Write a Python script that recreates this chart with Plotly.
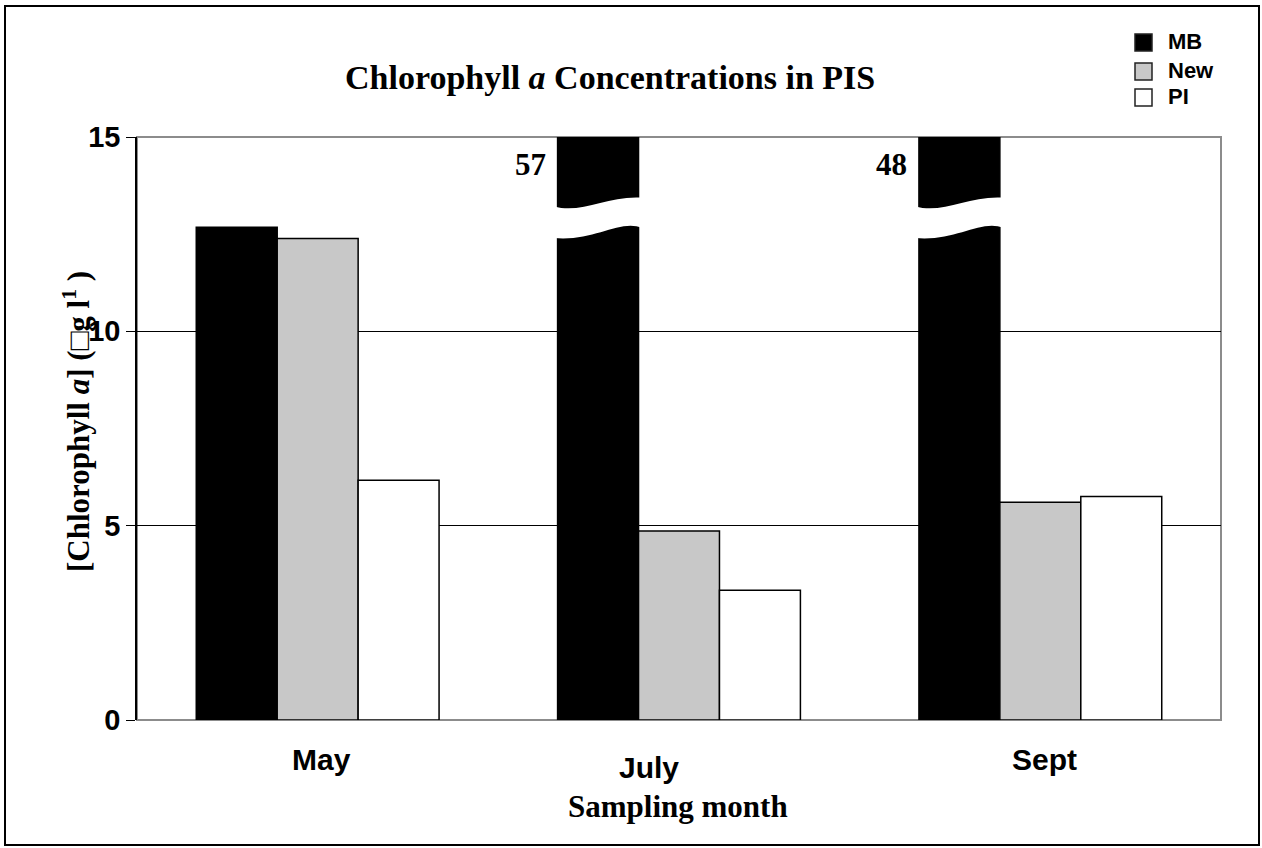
import plotly.graph_objects as go

# data
MONTHS = ["May", "July", "Sept"]
SERIES = ["MB", "New", "PI"]
MB = [12.68, 57, 48]
NEW = [12.39, 4.86, 5.6]
PI = [6.17, 3.34, 5.75]
BROKEN_LABELS = ["", "57", "48"]      # values of the off-scale MB bars
COLORS = ["#000000", "#c8c8c8", "#ffffff"]

# page geometry (px)
W, H = 1262, 848
L, R, T, B = 137, 41, 137, 128
PW, PH = W - L - R, H - T - B
BARGAP = 0.328
YMAX = 15


def px(x):   # pixel x -> paper x
    return (x - L) / PW


def py(y):   # pixel y -> paper y
    return (H - B - y) / PH


fig = go.Figure()
for name, vals, col in zip(SERIES, [MB, NEW, PI], COLORS):
    fig.add_bar(x=list(range(len(MONTHS))), y=vals, name=name,
                marker=dict(color=col, line=dict(color="#000000", width=1.5)))

# white "axis break" bands across the off-scale MB bars
bw = (1 - BARGAP) / 3
for i, lab in enumerate(BROKEN_LABELS):
    if not lab:
        continue
    xl, xr = i - 1.5 * bw - 0.01, i - 0.5 * bw + 0.01
    w = xr - xl
    path = (f"M{xl},13.22 C{xl + 0.3 * w},13.0 {xl + 0.6 * w},13.5 {xr},13.44 "
            f"L{xr},12.66 C{xr - 0.25 * w},12.9 {xl + 0.45 * w},12.3 {xl},12.40 Z")
    fig.add_shape(type="path", path=path, xref="x", yref="y",
                  fillcolor="white", line=dict(width=0), layer="above")
    fig.add_annotation(x=i - 1.5 * bw, y=14.3, xref="x", yref="y", text=f"<b>{lab}</b>",
                       showarrow=False, xanchor="right", yanchor="middle", xshift=-10,
                       font=dict(family="Liberation Serif", size=31, color="black"))

# month labels (July sits a bit left/lower in the original)
shifts = [(4, 0), (-30, -8), (4, 0)]
for i, (m, (dx, dy)) in enumerate(zip(MONTHS, shifts)):
    fig.add_annotation(x=i, y=py(759), xref="x", yref="paper", text=f"<b>{m}</b>",
                       showarrow=False, xshift=dx, yshift=dy,
                       xanchor="center", yanchor="middle",
                       font=dict(family="Liberation Sans", size=30, color="black"))

# hand-drawn legend, top right
leg_y = [43, 72, 98]
for name, col, y in zip(SERIES, COLORS, leg_y):
    fig.add_shape(type="rect", xref="paper", yref="paper",
                  x0=px(1135), x1=px(1152), y0=py(y + 8), y1=py(y - 9),
                  fillcolor=col, line=dict(color="#222222", width=1.5))
    fig.add_annotation(x=px(1166), y=py(y - 2), xref="paper", yref="paper",
                       text=f"<b>{name}</b>", showarrow=False,
                       xanchor="left", yanchor="middle",
                       font=dict(family="Liberation Sans", size=22, color="black"))

# plot area border + outer frame
fig.add_shape(type="rect", xref="paper", yref="paper", x0=0, x1=1, y0=0, y1=1,
              line=dict(color="#8c8c8c", width=2), layer="between")
fig.add_shape(type="rect", xref="paper", yref="paper",
              x0=px(5), x1=px(1259), y0=py(845), y1=py(6),
              line=dict(color="black", width=2))

fig.add_annotation(x=px(610), y=py(77), xref="paper", yref="paper",
                   text="<b>Chlorophyll <i>a</i> Concentrations in PIS</b>",
                   showarrow=False, xanchor="center", yanchor="middle",
                   font=dict(family="Liberation Serif", size=34, color="black"))
fig.add_annotation(x=px(678), y=py(806), xref="paper", yref="paper",
                   text="<b>Sampling month</b>", showarrow=False,
                   xanchor="center", yanchor="middle",
                   font=dict(family="Liberation Serif", size=31, color="black"))
fig.add_annotation(x=px(76), y=py(422), xref="paper", yref="paper", textangle=-90,
                   text="<b>[Chlorophyll <i>a</i>] (\u25a1g l<sup>1</sup> )</b>", showarrow=False,
                   xanchor="center", yanchor="middle",
                   font=dict(family="Liberation Serif", size=31, color="black"))

fig.update_layout(
    width=W, height=H, barmode="group", bargap=BARGAP, showlegend=False,
    margin=dict(l=L, r=R, t=T, b=B),
    paper_bgcolor="white", plot_bgcolor="white",
    xaxis=dict(range=[-0.5, 2.5], showticklabels=False, showgrid=False,
               zeroline=False, showline=False),
    yaxis=dict(range=[0, YMAX], dtick=5, showgrid=True, gridcolor="black", gridwidth=1,
               zeroline=False, showline=True, linecolor="black", linewidth=1.5,
               ticks="outside", ticklen=9, tickcolor="black",
               tickfont=dict(family="Liberation Sans", size=29, color="black"),
               tickprefix="<b>", ticksuffix="</b>"),
)

fig.write_html("out.html", config={"displayModeBar": False},
               post_script="document.body.style.margin='0';")
